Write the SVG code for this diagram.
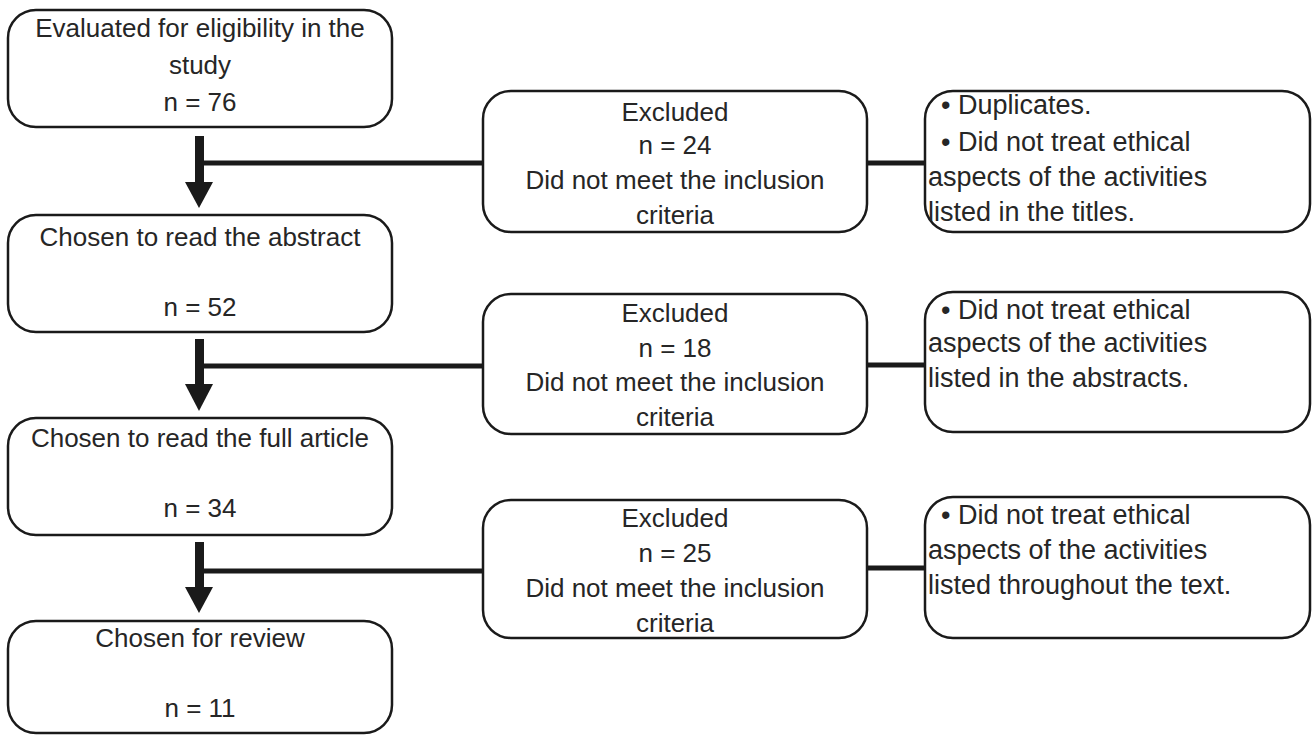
<svg xmlns="http://www.w3.org/2000/svg" width="1313" height="735" viewBox="0 0 1313 735">
<style>
.box{fill:#fff;stroke:#1a1a1a;stroke-width:2.5}
.t{font-family:"Liberation Sans",Arial,sans-serif;font-size:26px;fill:#262626}
.r{font-size:27px}
.c{text-anchor:middle}
.ln{stroke:#1a1a1a;stroke-width:5;fill:none}
.ar{fill:#1a1a1a}
</style>
<rect width="1313" height="735" fill="#fff"/>
<g id="connectors">
<rect class="ar" x="195" y="136" width="9" height="47"/>
<polygon class="ar" points="185,182 213,182 199,208"/>
<rect class="ar" x="195" y="339" width="9" height="46"/>
<polygon class="ar" points="185,384 213,384 199,411"/>
<rect class="ar" x="195" y="542" width="9" height="46"/>
<polygon class="ar" points="185,587 213,587 199,613"/>
<line class="ln" x1="204" y1="163" x2="483" y2="163"/>
<line class="ln" x1="204" y1="366" x2="483" y2="366"/>
<line class="ln" x1="204" y1="571" x2="483" y2="571"/>
<line class="ln" x1="867" y1="163" x2="925" y2="163"/>
<line class="ln" x1="867" y1="365" x2="925" y2="365"/>
<line class="ln" x1="867" y1="568" x2="925" y2="568"/>
</g>
<g id="evaluated">
<rect class="box" x="8" y="10" width="384" height="117" rx="28"/>
<text class="t c" x="200" y="37">Evaluated for eligibility in the</text>
<text class="t c" x="200" y="74">study</text>
<text class="t c" x="200" y="111">n = 76</text>
</g>
<g id="abstract">
<rect class="box" x="8" y="215" width="384" height="117" rx="28"/>
<text class="t c" x="200" y="246">Chosen to read the abstract</text>
<text class="t c" x="200" y="316">n = 52</text>
</g>
<g id="fullarticle">
<rect class="box" x="8" y="418" width="384" height="117" rx="28"/>
<text class="t c" x="200" y="447">Chosen to read the full article</text>
<text class="t c" x="200" y="517">n = 34</text>
</g>
<g id="review">
<rect class="box" x="8" y="621" width="384" height="112" rx="28"/>
<text class="t c" x="200" y="647">Chosen for review</text>
<text class="t c" x="200" y="717">n = 11</text>
</g>
<g id="excluded1">
<rect class="box" x="483" y="91" width="384" height="141" rx="28"/>
<text class="t c" x="675" y="121">Excluded</text>
<text class="t c" x="675" y="154">n = 24</text>
<text class="t c" x="675" y="189">Did not meet the inclusion</text>
<text class="t c" x="675" y="224">criteria</text>
</g>
<g id="excluded2">
<rect class="box" x="483" y="294" width="384" height="140" rx="28"/>
<text class="t c" x="675" y="322">Excluded</text>
<text class="t c" x="675" y="357">n = 18</text>
<text class="t c" x="675" y="391">Did not meet the inclusion</text>
<text class="t c" x="675" y="426">criteria</text>
</g>
<g id="excluded3">
<rect class="box" x="483" y="500" width="384" height="138" rx="28"/>
<text class="t c" x="675" y="527">Excluded</text>
<text class="t c" x="675" y="562">n = 25</text>
<text class="t c" x="675" y="597">Did not meet the inclusion</text>
<text class="t c" x="675" y="632">criteria</text>
</g>
<g id="reasons1">
<rect class="box" x="925" y="91" width="385" height="141" rx="28"/>
<text class="t r" x="941" y="114">• Duplicates.</text>
<text class="t r" x="941" y="151">• Did not treat ethical</text>
<text class="t r" x="928" y="186">aspects of the activities</text>
<text class="t r" x="928" y="221">listed in the titles.</text>
</g>
<g id="reasons2">
<rect class="box" x="925" y="292" width="385" height="140" rx="28"/>
<text class="t r" x="941" y="319">• Did not treat ethical</text>
<text class="t r" x="928" y="352">aspects of the activities</text>
<text class="t r" x="928" y="387">listed in the abstracts.</text>
</g>
<g id="reasons3">
<rect class="box" x="925" y="497" width="385" height="141" rx="28"/>
<text class="t r" x="941" y="524">• Did not treat ethical</text>
<text class="t r" x="928" y="559">aspects of the activities</text>
<text class="t r" x="928" y="594">listed throughout the text.</text>
</g>
</svg>
